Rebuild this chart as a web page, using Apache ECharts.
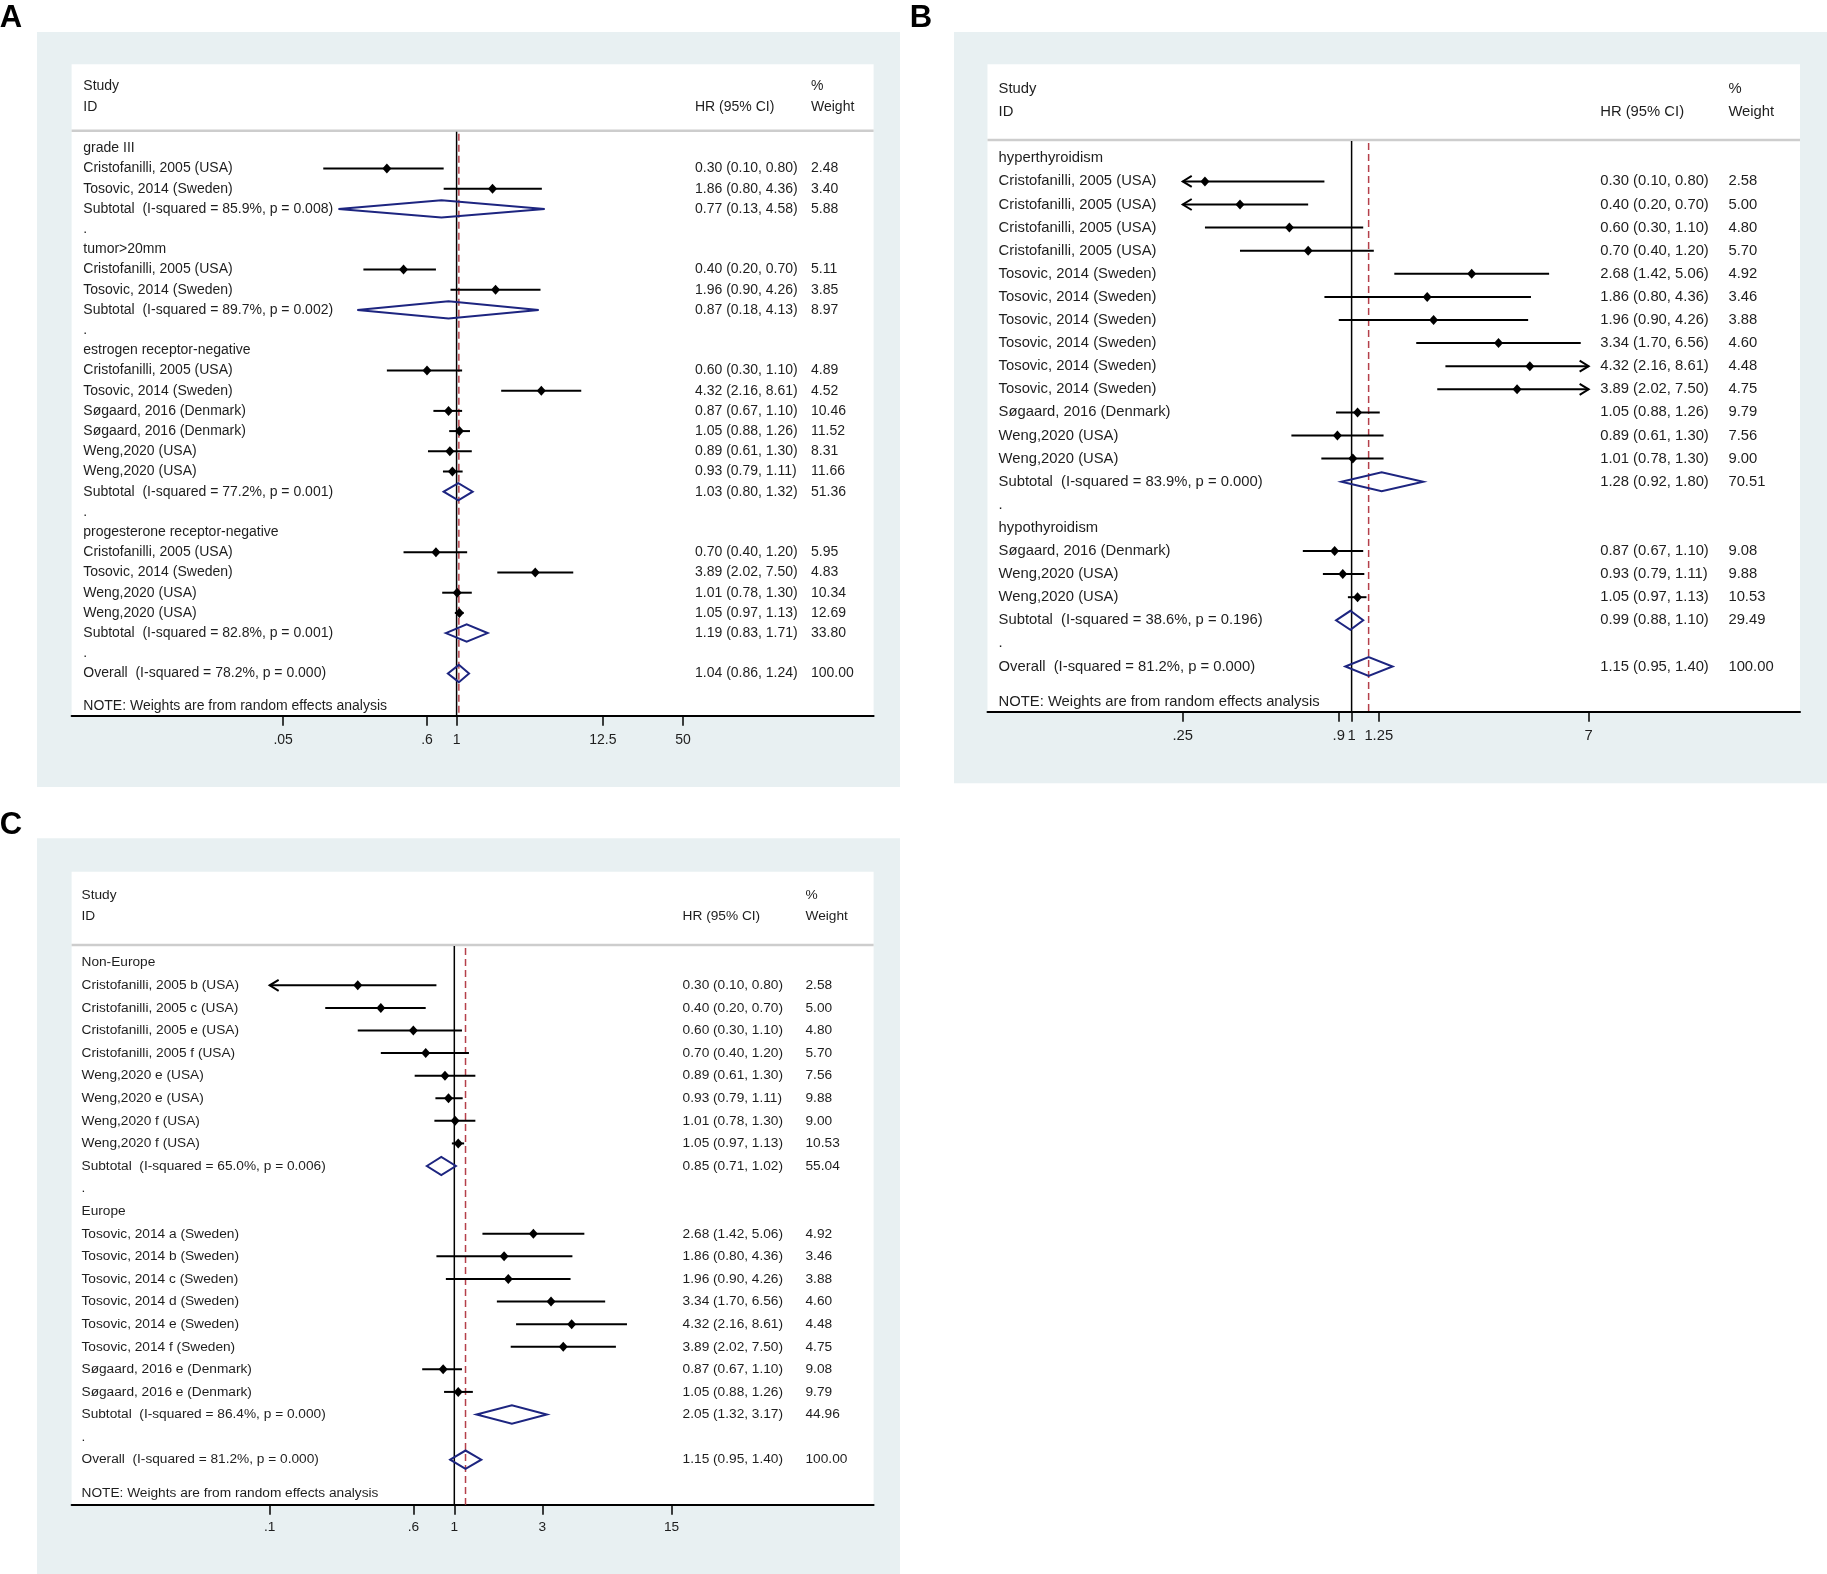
<!DOCTYPE html>
<html><head><meta charset="utf-8">
<script src="https://cdn.jsdelivr.net/npm/echarts@6/dist/echarts.min.js"></script>
<style>html,body{margin:0;padding:0;background:#fff}#c{width:1827px;height:1574px}</style>
</head><body><div id="c"></div>
<script>
// ---------------- Panel A data ----------------
const A_labels = ['grade III','Cristofanilli, 2005 (USA)','Tosovic, 2014 (Sweden)','Subtotal  (I-squared = 85.9%, p = 0.008)','.',
  'tumor>20mm','Cristofanilli, 2005 (USA)','Tosovic, 2014 (Sweden)','Subtotal  (I-squared = 89.7%, p = 0.002)','.',
  'estrogen receptor-negative','Cristofanilli, 2005 (USA)','Tosovic, 2014 (Sweden)','Søgaard, 2016 (Denmark)','Søgaard, 2016 (Denmark)','Weng,2020 (USA)','Weng,2020 (USA)','Subtotal  (I-squared = 77.2%, p = 0.001)','.',
  'progesterone receptor-negative','Cristofanilli, 2005 (USA)','Tosovic, 2014 (Sweden)','Weng,2020 (USA)','Weng,2020 (USA)','Subtotal  (I-squared = 82.8%, p = 0.001)','.',
  'Overall  (I-squared = 78.2%, p = 0.000)'];
const A_hr = [null,0.30,1.86,0.77,null, null,0.40,1.96,0.87,null, null,0.60,4.32,0.87,1.05,0.89,0.93,1.03,null, null,0.70,3.89,1.01,1.05,1.19,null, 1.04];
const A_lo = [null,0.10,0.80,0.13,null, null,0.20,0.90,0.18,null, null,0.30,2.16,0.67,0.88,0.61,0.79,0.80,null, null,0.40,2.02,0.78,0.97,0.83,null, 0.86];
const A_hi = [null,0.80,4.36,4.58,null, null,0.70,4.26,4.13,null, null,1.10,8.61,1.10,1.26,1.30,1.11,1.32,null, null,1.20,7.50,1.30,1.13,1.71,null, 1.24];
const A_weight = [null,2.48,3.40,5.88,null, null,5.11,3.85,8.97,null, null,4.89,4.52,10.46,11.52,8.31,11.66,51.36,null, null,5.95,4.83,10.34,12.69,33.80,null, 100.00];
const A_ticks = [0.05, 0.6, 1, 12.5, 50];
const A_tickLabels = ['.05', '.6', '1', '12.5', '50'];

// ---------------- Panel B data ----------------
const B_labels = ['hyperthyroidism','Cristofanilli, 2005 (USA)','Cristofanilli, 2005 (USA)','Cristofanilli, 2005 (USA)','Cristofanilli, 2005 (USA)',
  'Tosovic, 2014 (Sweden)','Tosovic, 2014 (Sweden)','Tosovic, 2014 (Sweden)','Tosovic, 2014 (Sweden)','Tosovic, 2014 (Sweden)','Tosovic, 2014 (Sweden)',
  'Søgaard, 2016 (Denmark)','Weng,2020 (USA)','Weng,2020 (USA)','Subtotal  (I-squared = 83.9%, p = 0.000)','.',
  'hypothyroidism','Søgaard, 2016 (Denmark)','Weng,2020 (USA)','Weng,2020 (USA)','Subtotal  (I-squared = 38.6%, p = 0.196)','.',
  'Overall  (I-squared = 81.2%, p = 0.000)'];
const B_hr = [null,0.30,0.40,0.60,0.70, 2.68,1.86,1.96,3.34,4.32,3.89, 1.05,0.89,1.01,1.28,null, null,0.87,0.93,1.05,0.99,null, 1.15];
const B_lo = [null,0.10,0.20,0.30,0.40, 1.42,0.80,0.90,1.70,2.16,2.02, 0.88,0.61,0.78,0.92,null, null,0.67,0.79,0.97,0.88,null, 0.95];
const B_hi = [null,0.80,0.70,1.10,1.20, 5.06,4.36,4.26,6.56,8.61,7.50, 1.26,1.30,1.30,1.80,null, null,1.10,1.11,1.13,1.10,null, 1.40];
const B_weight = [null,2.58,5.00,4.80,5.70, 4.92,3.46,3.88,4.60,4.48,4.75, 9.79,7.56,9.00,70.51,null, null,9.08,9.88,10.53,29.49,null, 100.00];
const B_ticks = [0.25, 0.9, 1, 1.25, 7];
const B_tickLabels = ['.25', '.9', '1', '1.25', '7'];

// ---------------- Panel C data ----------------
const C_labels = ['Non-Europe','Cristofanilli, 2005 b (USA)','Cristofanilli, 2005 c (USA)','Cristofanilli, 2005 e (USA)','Cristofanilli, 2005 f (USA)',
  'Weng,2020 e (USA)','Weng,2020 e (USA)','Weng,2020 f (USA)','Weng,2020 f (USA)','Subtotal  (I-squared = 65.0%, p = 0.006)','.',
  'Europe','Tosovic, 2014 a (Sweden)','Tosovic, 2014 b (Sweden)','Tosovic, 2014 c (Sweden)','Tosovic, 2014 d (Sweden)','Tosovic, 2014 e (Sweden)','Tosovic, 2014 f (Sweden)',
  'Søgaard, 2016 e (Denmark)','Søgaard, 2016 e (Denmark)','Subtotal  (I-squared = 86.4%, p = 0.000)','.',
  'Overall  (I-squared = 81.2%, p = 0.000)'];
const C_hr = [null,0.30,0.40,0.60,0.70,0.89,0.93,1.01,1.05,0.85,null, null,2.68,1.86,1.96,3.34,4.32,3.89,0.87,1.05,2.05,null, 1.15];
const C_lo = [null,0.10,0.20,0.30,0.40,0.61,0.79,0.78,0.97,0.71,null, null,1.42,0.80,0.90,1.70,2.16,2.02,0.67,0.88,1.32,null, 0.95];
const C_hi = [null,0.80,0.70,1.10,1.20,1.30,1.11,1.30,1.13,1.02,null, null,5.06,4.36,4.26,6.56,8.61,7.50,1.10,1.26,3.17,null, 1.40];
const C_weight = [null,2.58,5.00,4.80,5.70,7.56,9.88,9.00,10.53,55.04,null, null,4.92,3.46,3.88,4.60,4.48,4.75,9.08,9.79,44.96,null, 100.00];
const C_ticks = [0.1, 0.6, 1, 3, 15];
const C_tickLabels = ['.1', '.6', '1', '3', '15'];

// ---------------- layout / styling ----------------
const FONT = '"Liberation Sans", Arial, Helvetica, sans-serif';
const TEXT = '#1e1e1e';
const NAVY = '#1d2580';
const RED = '#b5404a';
const BG = '#e8f0f2';

const panels = [
  { letter: 'A', letterPos: [11, 18], labels: A_labels, hr: A_hr, lo: A_lo, hi: A_hi, weight: A_weight, ticks: A_ticks, tickLabels: A_tickLabels,
    bg: [37, 32, 863, 755], grid: { left: 71.6, top: 64.3, width: 802, height: 651.4 },
    row0: 148.3, step: 20.2, xr: [-6.649, 7.202], fs: 14,
    dx: { label: 11.7, hr: 623.4, w: 739.4 }, head: { study: 21.7, id: 42.7, sep: 66.4 }, note: 10, dh: 17.3, margin: 17 },
  { letter: 'B', letterPos: [921, 18], labels: B_labels, hr: B_hr, lo: B_lo, hi: B_hi, weight: B_weight, ticks: B_ticks, tickLabels: B_tickLabels,
    bg: [954, 32, 873, 751.3], grid: { left: 987.5, top: 64.3, width: 812.5, height: 647.4 },
    row0: 158.3, step: 23.1, xr: [-2.989, 3.681], fs: 14.8,
    dx: { label: 11.1, hr: 612.7, w: 740.9 }, head: { study: 25, id: 47.4, sep: 75.7 }, note: 10, dh: 19, margin: 17 },
  { letter: 'C', letterPos: [11, 825], labels: C_labels, hr: C_hr, lo: C_lo, hi: C_hi, weight: C_weight, ticks: C_ticks, tickLabels: C_tickLabels,
    bg: [37, 838.3, 863, 736], grid: { left: 71.6, top: 871.7, width: 802, height: 633 },
    row0: 962.7, step: 22.59, xr: [-4.772, 5.228], fs: 13.7,
    dx: { label: 9.9, hr: 611, w: 733.9 }, head: { study: 23.3, id: 45, sep: 73.3 }, note: 11, dh: 18.3, margin: 16 }
];

function txt(text, x, y, font, align) {
  return { type: 'text', style: { text, x, y, font, fill: TEXT, align: align || 'left', verticalAlign: 'middle' } };
}

function rowRender(P) {
  const clipLo = P.ticks[0], clipHi = P.ticks[P.ticks.length - 1];
  return function (params, api) {
    const i = api.value(1);
    const cs = params.coordSys;
    const y = api.coord([0, i])[1];
    const font = P.fs + 'px ' + FONT;
    const ch = [];
    ch.push(txt(P.labels[i], cs.x + P.dx.label, y, font));
    const hr = P.hr[i];
    if (hr != null) {
      const lo = P.lo[i], hi = P.hi[i];
      ch.push(txt(hr.toFixed(2) + ' (' + lo.toFixed(2) + ', ' + hi.toFixed(2) + ')', cs.x + P.dx.hr, y, font));
      ch.push(txt(P.weight[i].toFixed(2), cs.x + P.dx.w, y, font));
      const xl = api.coord([Math.log(Math.max(lo, clipLo)), i])[0];
      const xh = api.coord([Math.log(Math.min(hi, clipHi)), i])[0];
      const xc = api.coord([Math.log(hr), i])[0];
      if (/^(Subtotal|Overall)/.test(P.labels[i])) {
        const h = P.dh / 2;
        ch.push({ type: 'polygon', shape: { points: [[xl, y], [xc, y - h], [xh, y], [xc, y + h]] },
          style: { fill: 'none', stroke: NAVY, lineWidth: 2 }, z2: 5 });
      } else {
        ch.push({ type: 'line', shape: { x1: xl, y1: y, x2: xh, y2: y }, style: { stroke: '#000', lineWidth: 2 } });
        if (lo <= clipLo) {
          ch.push({ type: 'polyline', shape: { points: [[xl + 9, y - 5.5], [xl, y], [xl + 9, y + 5.5]] }, style: { stroke: '#000', lineWidth: 2, fill: 'none' } });
        }
        if (hi >= clipHi) {
          ch.push({ type: 'polyline', shape: { points: [[xh - 9, y - 5.5], [xh, y], [xh - 9, y + 5.5]] }, style: { stroke: '#000', lineWidth: 2, fill: 'none' } });
        }
        ch.push({ type: 'polygon', shape: { points: [[xc - 4.5, y], [xc, y - 5], [xc + 4.5, y], [xc, y + 5]] }, style: { fill: '#000' }, z2: 6 });
      }
    }
    return { type: 'group', children: ch };
  };
}

function frameRender(P) {
  return function (params, api) {
    const cs = params.coordSys;
    const font = P.fs + 'px ' + FONT;
    const top = cs.y, bottom = cs.y + cs.height;
    const sepY = top + P.head.sep;
    const xOne = api.coord([0, 0])[0];
    const oi = P.labels.findIndex(l => l.indexOf('Overall') === 0);
    const xo = api.coord([Math.log(P.hr[oi]), 0])[0];
    return { type: 'group', children: [
      { type: 'line', shape: { x1: cs.x, y1: sepY, x2: cs.x + cs.width, y2: sepY }, style: { stroke: '#cdcdcd', lineWidth: 2.5 } },
      { type: 'line', shape: { x1: xOne, y1: sepY + 1, x2: xOne, y2: bottom }, style: { stroke: '#000', lineWidth: 1.5 } },
      { type: 'line', shape: { x1: xo, y1: sepY + 3, x2: xo, y2: bottom }, style: { stroke: RED, lineWidth: 1.5, lineDash: [7, 4] } },
      txt('Study', cs.x + P.dx.label, top + P.head.study, font),
      txt('ID', cs.x + P.dx.label, top + P.head.id, font),
      txt('HR (95% CI)', cs.x + P.dx.hr, top + P.head.id, font),
      txt('%', cs.x + P.dx.w, top + P.head.study, font),
      txt('Weight', cs.x + P.dx.w, top + P.head.id, font),
      txt('NOTE: Weights are from random effects analysis', cs.x + P.dx.label, bottom - P.note, font)
    ] };
  };
}

const grids = [], xAxes = [], yAxes = [], series = [], graphics = [];
panels.forEach((P, k) => {
  graphics.push({ type: 'rect', z: -10, shape: { x: P.bg[0], y: P.bg[1], width: P.bg[2], height: P.bg[3] }, style: { fill: BG } });
  graphics.push({ type: 'text', z: 10, x: P.letterPos[0], y: P.letterPos[1],
    style: { text: P.letter, font: 'bold 31px "Liberation Sans Narrow", "Liberation Sans", Arial, sans-serif', fill: '#000', align: 'center', verticalAlign: 'middle' } });
  grids.push({ left: P.grid.left, top: P.grid.top, width: P.grid.width, height: P.grid.height,
    show: true, backgroundColor: '#ffffff', borderWidth: 0 });
  const lnTicks = P.ticks.map(Math.log);
  xAxes.push({
    type: 'value', gridIndex: k, min: P.xr[0], max: P.xr[1], position: 'bottom',
    axisLine: { show: true, onZero: false, lineStyle: { color: '#000', width: 2 } },
    axisTick: { show: true, customValues: lnTicks, length: 10, lineStyle: { color: '#000', width: 1.5 } },
    axisLabel: { show: true, customValues: lnTicks, margin: P.margin, fontSize: P.fs, fontFamily: FONT, color: TEXT, hideOverlap: false,
      formatter: function (v) {
        let best = 0, d = Infinity;
        lnTicks.forEach((t, j) => { if (Math.abs(t - v) < d) { d = Math.abs(t - v); best = j; } });
        return P.tickLabels[best];
      } },
    splitLine: { show: false }
  });
  yAxes.push({
    type: 'value', gridIndex: k, inverse: true, show: false,
    min: (P.grid.top - P.row0) / P.step,
    max: (P.grid.top + P.grid.height - P.row0) / P.step,
    splitLine: { show: false }
  });
  series.push({ type: 'custom', xAxisIndex: k, yAxisIndex: k, z: 2, clip: false, silent: true,
    renderItem: frameRender(P), data: [[0, 0]] });
  series.push({ type: 'custom', xAxisIndex: k, yAxisIndex: k, z: 3, clip: false, silent: true,
    renderItem: rowRender(P), data: P.labels.map((_, i) => [P.hr[i] != null ? Math.log(P.hr[i]) : 0, i]) });
});

const chart = echarts.init(document.getElementById('c'), null, { renderer: 'canvas' });
chart.setOption({
  animation: false,
  backgroundColor: '#ffffff',
  grid: grids, xAxis: xAxes, yAxis: yAxes, series: series, graphic: { elements: graphics }
});
</script>
</body></html>
